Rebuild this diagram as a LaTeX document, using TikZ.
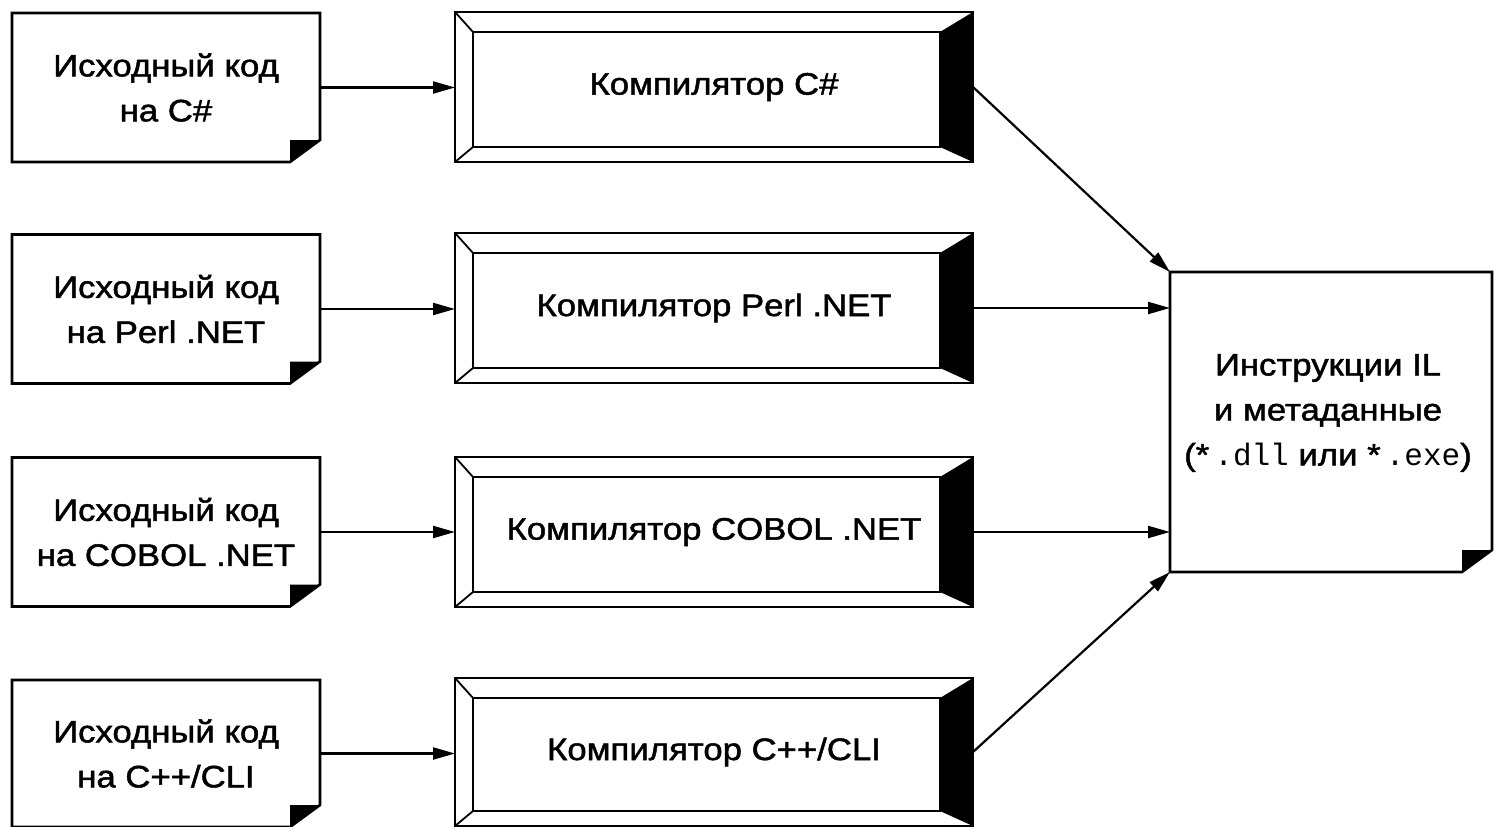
\documentclass[tikz,border=0pt]{standalone}
\usepackage{fontspec}
\setmainfont{Liberation Sans}[FakeStretch=1.12,FakeBold=1.6]
\newfontfamily\monofam{Liberation Mono}
\usetikzlibrary{arrows.meta}
\begin{document}
\begin{tikzpicture}[x=1pt,y=-1pt,
  txt/.style={font=\fontsize{31}{45}\selectfont, align=center, inner sep=0pt},
  srcbox/.style={txt, minimum width=308pt, minimum height=149pt, outer sep=0pt},
  cbox/.style={txt, minimum width=518pt, minimum height=150pt, outer sep=0pt},
  ilbox/.style={minimum width=322pt, minimum height=300pt, inner sep=0pt, outer sep=0pt},
  outline/.style={line width=2.6pt, line join=miter},
  diag/.style={line width=1.8pt},
  conn/.style={line width=2.2pt, -{Triangle[length=22pt,width=12pt]}}
]
\useasboundingbox (0,0) rectangle (1497,827);
\fill[white] (0,0) rectangle (1497,827);

% source documents
\node[srcbox] (s1) at (166,87.5) {Исходный код\\на C\#};
\node[srcbox] (s2) at (166,309) {Исходный код\\на Perl .NET};
\node[srcbox] (s3) at (166,532) {Исходный код\\на COBOL .NET};
\node[srcbox, minimum height=147pt] (s4) at (166,753.5) {Исходный код\\на C++/CLI};

\foreach \n in {s1,s2,s3,s4}{
  \draw[outline] (\n.north west) -- (\n.north east) -- ([yshift=22pt]\n.south east)
     -- ([xshift=-30pt]\n.south east) -- (\n.south west) -- cycle;
  \fill ([yshift=22pt]\n.south east) -- ([xshift=-30pt,yshift=22pt]\n.south east)
     -- ([xshift=-30pt]\n.south east) -- cycle;
}

% compilers
\node[cbox] (c1) at (714,87) {Компилятор C\#};
\node[cbox] (c2) at (714,308) {Компилятор Perl .NET};
\node[cbox] (c3) at (714,532) {Компилятор COBOL .NET};
\node[cbox, minimum height=148pt] (c4) at (714,752) {Компилятор C++/CLI};

\foreach \c in {c1,c2,c3,c4}{
  \draw[outline] (\c.north west) rectangle (\c.south east);
  \draw[outline] ([xshift=18pt,yshift=-20pt]\c.north west) rectangle ([xshift=-33pt,yshift=15pt]\c.south east);
  \fill (\c.north east) -- ([xshift=-33pt,yshift=-20pt]\c.north east)
     -- ([xshift=-33pt,yshift=15pt]\c.south east) -- (\c.south east) -- cycle;
  \draw[diag] (\c.north west) -- ([xshift=18pt,yshift=-20pt]\c.north west);
  \draw[diag] (\c.south west) -- ([xshift=18pt,yshift=15pt]\c.south west);
}

% IL output
\node[ilbox] (il) at (1331,422) {};
\draw[outline] (il.north west) -- (il.north east) -- ([yshift=22pt]il.south east)
   -- ([xshift=-30pt]il.south east) -- (il.south west) -- cycle;
\fill ([yshift=22pt]il.south east) -- ([xshift=-30pt,yshift=22pt]il.south east)
   -- ([xshift=-30pt]il.south east) -- cycle;
\node[txt] (iltext) at (1328,413) {Инструкции IL\\и метаданные\\(*\,{\monofam .dll} или *\,{\monofam .exe})};

% connectors
\foreach \i in {1,2,3,4}{
  \draw[conn] (s\i.east) -- (s\i.east -| c\i.west);
}
\draw[conn] (c1.east) -- (il.north west);
\draw[conn] (c2.east) -- (c2.east -| il.west);
\draw[conn] (c3.east) -- (c3.east -| il.west);
\draw[conn] (c4.east) -- (il.south west);
\end{tikzpicture}
\end{document}
